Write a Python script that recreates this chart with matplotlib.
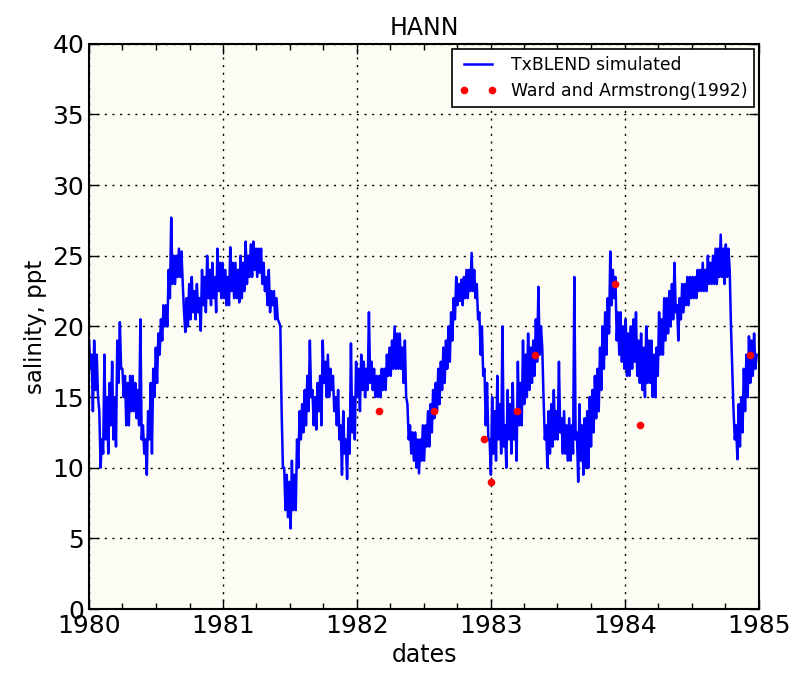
import matplotlib
matplotlib.use('Agg')
import matplotlib.pyplot as plt
import matplotlib.dates as mdates
import pandas as pd

# simulated salinity (ppt), two readings per week
# (top and bottom of the noisy band), starting 1980-01-01
sal_1980 = [17, 19, 14, 18, 19, 15.5, 15, 18, 10, 14, 12, 11, 18, 12, 11, 15,
            13, 16, 17.5, 12, 11.5, 15, 16, 19, 20.3, 17, 15, 17, 13, 16.5, 13, 16,
            16.5, 14, 14, 16.5, 16, 13.5, 13, 15.5, 20.5, 12, 11, 13, 9.5, 12, 12, 14,
            11, 16, 15, 17, 16, 18.5, 18, 19.5, 19, 20.5, 20, 21.5, 21.5, 20, 22, 24,
            27.7, 23, 23, 25, 25, 23.5, 23.5, 25.5, 25.3, 23, 19.6, 21, 22, 20, 20.5, 23,
            23.5, 21, 20.5, 22.5, 23, 21, 19.7, 22, 24, 21.5, 21, 23.5, 25, 22, 21.5, 24,
            24.5, 22, 21, 23.5, 25.5, 22.5, 22, 24.5]
sal_1981 = [24.5, 22, 21.5, 24, 23.5, 21.5, 25.6, 22.5, 22, 24.5, 24.5, 22, 21.7, 24,
            25, 22, 22.5, 24.5, 26, 23, 23.5, 25, 25.8, 23.5, 24, 26, 25.5, 23.5,
            23.8, 25.5, 25.5, 23, 24.5, 22.5, 23.5, 21.5, 24, 21, 21.5, 22.5, 22.5, 20.5,
            20.5, 22, 20.3, 20, 10, 14, 7, 10, 9.5, 6.5, 5.7, 9, 10.5, 7, 7, 9.5,
            10, 12, 12, 14, 14.5, 12.5, 13, 15.5, 16.5, 14, 19, 15, 15.5, 13, 12.7, 15,
            16, 14, 13, 16.5, 19, 16, 15, 17.5, 18, 15, 15.5, 17, 16.5, 14, 13, 15,
            15.5, 12, 9.5, 13, 14, 11, 9.2, 12, 13.5, 11, 18.8, 12.5, 12, 15]
sal_1982 = [17.5, 15, 14, 17, 18, 15.5, 15, 17.5, 17, 15.5, 21, 16, 15.5, 17.5,
            17, 15, 15, 16.5, 16.5, 15, 15.5, 17, 17, 15.5, 16.5, 18, 18.5, 16.5,
            17, 19, 20, 17, 17, 19.5, 19.5, 17, 16, 18.5, 19, 15, 12, 14.5, 13, 11,
            10.5, 12.5, 12.5, 10, 9.6, 12, 12, 10.5, 10.5, 13, 13, 11.5, 11.5, 14,
            14.5, 12.5, 13.5, 15.5, 16, 14, 14.5, 17, 17.5, 15.5, 16, 18.5, 19, 17,
            17.5, 20, 21, 19, 22, 20.5, 23.5, 21.5, 21.8, 23, 23.3, 21.5, 22, 23.5,
            24, 22, 22.5, 24, 25.2, 22.5, 22, 24, 23, 20.5, 18, 21, 20, 16.5, 13, 17,
            16, 12]
sal_1983 = [9.5, 12, 15, 11, 10.5, 14, 16.5, 12, 11, 14.5, 20, 11.5, 10, 13,
            15.5, 12, 11, 14.5, 16, 12, 10.5, 14, 17.5, 13, 13, 16, 19, 14.5, 15, 18,
            19.5, 15.5, 16, 18.5, 19, 16.5, 17.5, 20.5, 22.8, 18, 18.5, 20, 12, 15,
            10, 13, 14, 11, 11.5, 14.5, 15.5, 12, 12, 14, 17.5, 12.5, 11, 13.5, 14, 11,
            10.5, 13, 13.5, 10.5, 11, 13, 23.5, 12, 9, 12.5, 14.5, 10.5, 9.5, 13,
            13.5, 10, 10, 14, 15, 11.5, 12.5, 15.5, 16.5, 13.5, 14, 17, 18.5, 15.5,
            17, 20, 21, 18, 19.5, 22, 25.3, 21.5, 22, 24, 23.5, 19, 18, 21, 21, 17.5]
sal_1984 = [17, 20, 20.5, 16.5, 16.5, 19.5, 20, 17, 17.5, 20.5, 21, 16.5, 16, 19,
            19.5, 15.5, 15, 18.5, 20, 16, 16, 19, 19, 15, 15, 18, 18.5, 16.5, 21, 18,
            18, 20.5, 22, 19, 19.5, 22, 22.5, 20, 20.5, 23, 24.5, 21, 19, 21.5, 22, 20.5,
            21, 23, 23, 21.5, 21.5, 23.5, 23.5, 22, 22, 23.5, 23.5, 22, 22.5, 24,
            24, 22.5, 22.5, 24.5, 24, 22.5, 23, 25, 24.5, 23, 23, 25, 25.5, 23, 23.5, 25.5,
            26.5, 23.5, 23, 25.5, 25.8, 23.5, 24, 25.5, 20, 17, 14, 12, 10.6, 13,
            14.5, 11.5, 12.5, 15, 17, 14, 15, 18, 19.3, 16, 16.5, 19, 19.5, 17, 18]

readings = sal_1980 + sal_1981 + sal_1982 + sal_1983 + sal_1984
# put each week's top reading first, then its bottom one, so the trace jumps
# up and down like the daily series does
salinity = []
for hi_lo in zip(readings[0::2], readings[1::2]):
    salinity += [max(hi_lo), min(hi_lo)]
salinity.append(readings[-1])
sim_dates = pd.date_range('1980-01-01', periods=len(salinity), freq='84h')

# observations, Ward and Armstrong (1992)
obs_dates = pd.to_datetime(['1982-03-01', '1982-07-29', '1982-12-13', '1983-01-01',
                            '1983-03-13', '1983-04-30', '1983-12-04', '1984-02-10',
                            '1984-12-07'])
obs_sal = [14, 14, 12, 9, 14, 18, 23, 13, 18]

fig = plt.figure(figsize=(7.95, 6.73), dpi=100)
ax = fig.add_axes([0.112, 0.095, 0.843, 0.84])
ax.set_facecolor('#fcfcf4')

ax.plot(sim_dates, salinity, color='#0000ff', lw=1.8, label='TxBLEND simulated')
ax.plot(obs_dates, obs_sal, 'o', color='#ff0000', ms=5.5, mec='none',
        label='Ward and Armstrong(1992)')

ax.set_xlim(pd.Timestamp('1980-01-01'), pd.Timestamp('1985-01-01'))
ax.set_ylim(0, 40)
ax.xaxis.set_major_locator(mdates.YearLocator())
ax.xaxis.set_major_formatter(mdates.DateFormatter('%Y'))
ax.xaxis.set_minor_locator(mdates.MonthLocator(bymonth=[4, 7, 10]))

ax.tick_params(which='both', direction='in', top=True, right=True, labelsize=18)
ax.tick_params(which='major', length=7, width=1)
ax.tick_params(which='minor', length=4, width=1)
for s in ax.spines.values():
    s.set_linewidth(1.5)

ax.grid(True, which='major', color='k', ls=(0, (1.5, 4)), lw=1)

ax.set_title('HANN', fontsize=17)
ax.set_xlabel('dates', fontsize=17)
ax.set_ylabel('salinity, ppt', fontsize=16.5)

leg = ax.legend(loc='upper right', numpoints=2, fontsize=12.4, fancybox=False,
                framealpha=1, edgecolor='k', handlelength=2.2, borderaxespad=0.3)
leg.get_frame().set_linewidth(1.2)

plt.savefig('out.png', dpi=100)
